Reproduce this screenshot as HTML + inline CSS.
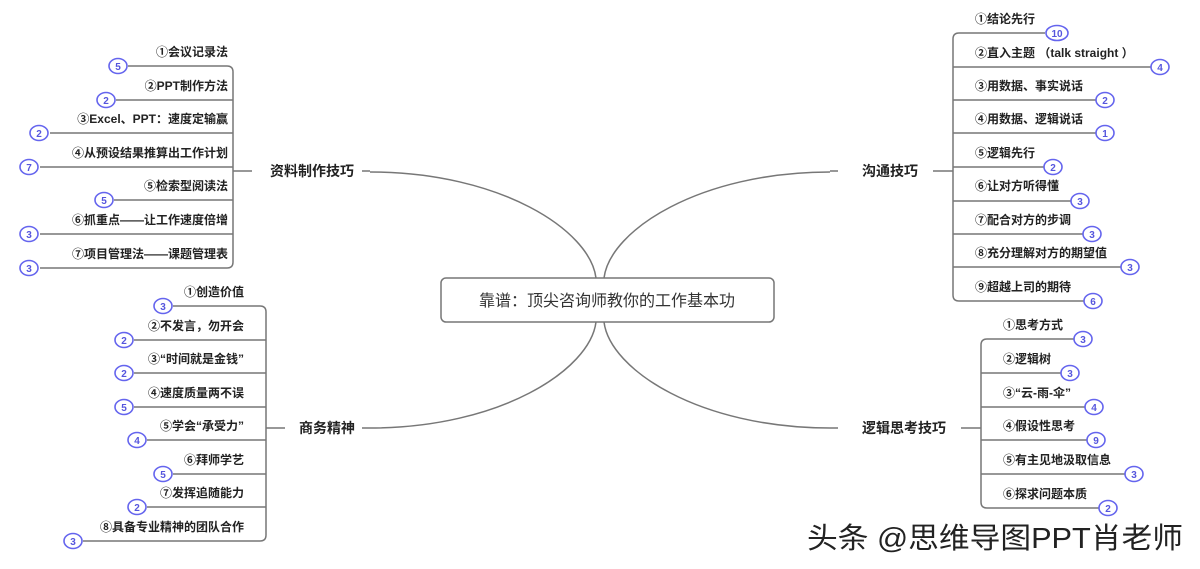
<!DOCTYPE html>
<html><head><meta charset="utf-8"><style>
html,body{margin:0;padding:0;background:#fff;}
svg{display:block;}
.t{font-family:"Liberation Sans","Noto Sans CJK SC",sans-serif;font-size:12px;font-weight:bold;fill:#222;}
.b{font-family:"Liberation Sans","Noto Sans CJK SC",sans-serif;font-size:14px;font-weight:bold;fill:#222;}
.c{font-family:"Liberation Sans","Noto Sans CJK SC",sans-serif;font-size:16px;fill:#333;}
.n{font-family:"Liberation Sans",sans-serif;font-size:10px;font-weight:bold;fill:#5555dd;text-anchor:middle;}
.l{fill:none;stroke:#777;stroke-width:1.5;}
.e{fill:#fff;stroke:#6464ee;stroke-width:1.6;}
.w{font-family:"Liberation Sans","Noto Sans CJK SC",sans-serif;font-size:29px;fill:#222;stroke:#fff;stroke-width:3px;paint-order:stroke;}
</style></head><body>
<svg width="1200" height="569" viewBox="0 0 1200 569" xmlns="http://www.w3.org/2000/svg">
<!-- center -->
<rect x="441" y="278" width="333" height="44" rx="5" fill="#fff" stroke="#777" stroke-width="1.5"/>
<text class="c" x="607" y="306" text-anchor="middle">靠谱：顶尖咨询师教你的工作基本功</text>
<path class="l" d="M370,172 C500,172 590,230 596,278"/>
<path class="l" d="M830,172 C700,172 610,230 604,278"/>
<path class="l" d="M370,428 C500,428 590,370 596,322"/>
<path class="l" d="M830,428 C700,428 610,370 604,322"/>

<!-- branch 1 left top -->
<path class="l" d="M233,171 H252 M362,171 H370"/>
<text class="b" x="270" y="176">资料制作技巧</text>
<path class="l" d="M128,66 H227 Q233,66 233,72 V262 Q233,268 227,268 H40"/>
<path class="l" d="M116,100 H233 M50,133 H233 M40,167 H233 M114,200 H233 M40,234 H233"/>
<g>
<text class="t" x="228" y="56" text-anchor="end">①会议记录法</text>
<text class="t" x="228" y="90" text-anchor="end">②PPT制作方法</text>
<text class="t" x="228" y="123" text-anchor="end">③Excel、PPT：速度定输赢</text>
<text class="t" x="228" y="157" text-anchor="end">④从预设结果推算出工作计划</text>
<text class="t" x="228" y="190" text-anchor="end">⑤检索型阅读法</text>
<text class="t" x="228" y="224" text-anchor="end">⑥抓重点——让工作速度倍增</text>
<text class="t" x="228" y="258" text-anchor="end">⑦项目管理法——课题管理表</text>
</g>
<g>
<ellipse class="e" cx="118" cy="66" rx="9" ry="7.5"/><text class="n" x="118" y="70">5</text>
<ellipse class="e" cx="106" cy="100" rx="9" ry="7.5"/><text class="n" x="106" y="104">2</text>
<ellipse class="e" cx="39" cy="133" rx="9" ry="7.5"/><text class="n" x="39" y="137">2</text>
<ellipse class="e" cx="29" cy="167" rx="9" ry="7.5"/><text class="n" x="29" y="171">7</text>
<ellipse class="e" cx="104" cy="200" rx="9" ry="7.5"/><text class="n" x="104" y="204">5</text>
<ellipse class="e" cx="29" cy="234" rx="9" ry="7.5"/><text class="n" x="29" y="238">3</text>
<ellipse class="e" cx="29" cy="268" rx="9" ry="7.5"/><text class="n" x="29" y="272">3</text>
</g>

<!-- branch 2 left bottom -->
<path class="l" d="M266,428 H285 M362,428 H370"/>
<text class="b" x="299" y="433">商务精神</text>
<path class="l" d="M173,306 H260 Q266,306 266,312 V535 Q266,541 260,541 H83"/>
<path class="l" d="M134,340 H266 M134,373 H266 M134,407 H266 M147,440 H266 M173,474 H266 M147,507 H266"/>
<g>
<text class="t" x="244" y="296" text-anchor="end">①创造价值</text>
<text class="t" x="244" y="330" text-anchor="end">②不发言，勿开会</text>
<text class="t" x="244" y="363" text-anchor="end">③“时间就是金钱”</text>
<text class="t" x="244" y="397" text-anchor="end">④速度质量两不误</text>
<text class="t" x="244" y="430" text-anchor="end">⑤学会“承受力”</text>
<text class="t" x="244" y="464" text-anchor="end">⑥拜师学艺</text>
<text class="t" x="244" y="497" text-anchor="end">⑦发挥追随能力</text>
<text class="t" x="244" y="531" text-anchor="end">⑧具备专业精神的团队合作</text>
</g>
<g>
<ellipse class="e" cx="163" cy="306" rx="9" ry="7.5"/><text class="n" x="163" y="310">3</text>
<ellipse class="e" cx="124" cy="340" rx="9" ry="7.5"/><text class="n" x="124" y="344">2</text>
<ellipse class="e" cx="124" cy="373" rx="9" ry="7.5"/><text class="n" x="124" y="377">2</text>
<ellipse class="e" cx="124" cy="407" rx="9" ry="7.5"/><text class="n" x="124" y="411">5</text>
<ellipse class="e" cx="137" cy="440" rx="9" ry="7.5"/><text class="n" x="137" y="444">4</text>
<ellipse class="e" cx="163" cy="474" rx="9" ry="7.5"/><text class="n" x="163" y="478">5</text>
<ellipse class="e" cx="137" cy="507" rx="9" ry="7.5"/><text class="n" x="137" y="511">2</text>
<ellipse class="e" cx="73" cy="541" rx="9" ry="7.5"/><text class="n" x="73" y="545">3</text>
</g>

<!-- branch 3 right top -->
<path class="l" d="M830,171 H838 M933,171 H953"/>
<text class="b" x="862" y="176">沟通技巧</text>
<path class="l" d="M1045,33 H959 Q953,33 953,39 V295 Q953,301 959,301 H1084"/>
<path class="l" d="M953,67 H1151 M953,100 H1096 M953,133 H1096 M953,167 H1044 M953,201 H1071 M953,234 H1083 M953,267 H1121"/>
<g>
<text class="t" x="975" y="23">①结论先行</text>
<text class="t" x="975" y="57">②直入主题 （talk straight ）</text>
<text class="t" x="975" y="90">③用数据、事实说话</text>
<text class="t" x="975" y="123">④用数据、逻辑说话</text>
<text class="t" x="975" y="157">⑤逻辑先行</text>
<text class="t" x="975" y="190">⑥让对方听得懂</text>
<text class="t" x="975" y="224">⑦配合对方的步调</text>
<text class="t" x="975" y="257">⑧充分理解对方的期望值</text>
<text class="t" x="975" y="291">⑨超越上司的期待</text>
</g>
<g>
<ellipse class="e" cx="1057" cy="33" rx="11" ry="7.5"/><text class="n" x="1057" y="37">10</text>
<ellipse class="e" cx="1160" cy="67" rx="9" ry="7.5"/><text class="n" x="1160" y="71">4</text>
<ellipse class="e" cx="1105" cy="100" rx="9" ry="7.5"/><text class="n" x="1105" y="104">2</text>
<ellipse class="e" cx="1105" cy="133" rx="9" ry="7.5"/><text class="n" x="1105" y="137">1</text>
<ellipse class="e" cx="1053" cy="167" rx="9" ry="7.5"/><text class="n" x="1053" y="171">2</text>
<ellipse class="e" cx="1080" cy="201" rx="9" ry="7.5"/><text class="n" x="1080" y="205">3</text>
<ellipse class="e" cx="1092" cy="234" rx="9" ry="7.5"/><text class="n" x="1092" y="238">3</text>
<ellipse class="e" cx="1130" cy="267" rx="9" ry="7.5"/><text class="n" x="1130" y="271">3</text>
<ellipse class="e" cx="1093" cy="301" rx="9" ry="7.5"/><text class="n" x="1093" y="305">6</text>
</g>

<!-- branch 4 right bottom -->
<path class="l" d="M830,428 H838 M961,428 H981"/>
<text class="b" x="862" y="433">逻辑思考技巧</text>
<path class="l" d="M1074,339 H987 Q981,339 981,345 V502 Q981,508 987,508 H1099"/>
<path class="l" d="M981,373 H1061 M981,407 H1085 M981,440 H1087 M981,474 H1125"/>
<g>
<text class="t" x="1003" y="329">①思考方式</text>
<text class="t" x="1003" y="363">②逻辑树</text>
<text class="t" x="1003" y="397">③“云-雨-伞”</text>
<text class="t" x="1003" y="430">④假设性思考</text>
<text class="t" x="1003" y="464">⑤有主见地汲取信息</text>
<text class="t" x="1003" y="498">⑥探求问题本质</text>
</g>
<g>
<ellipse class="e" cx="1083" cy="339" rx="9" ry="7.5"/><text class="n" x="1083" y="343">3</text>
<ellipse class="e" cx="1070" cy="373" rx="9" ry="7.5"/><text class="n" x="1070" y="377">3</text>
<ellipse class="e" cx="1094" cy="407" rx="9" ry="7.5"/><text class="n" x="1094" y="411">4</text>
<ellipse class="e" cx="1096" cy="440" rx="9" ry="7.5"/><text class="n" x="1096" y="444">9</text>
<ellipse class="e" cx="1134" cy="474" rx="9" ry="7.5"/><text class="n" x="1134" y="478">3</text>
<ellipse class="e" cx="1108" cy="508" rx="9" ry="7.5"/><text class="n" x="1108" y="512">2</text>
</g>

<text class="w" x="807" y="548" textLength="376" lengthAdjust="spacingAndGlyphs">头条 @思维导图PPT肖老师</text>
</svg>
</body></html>
